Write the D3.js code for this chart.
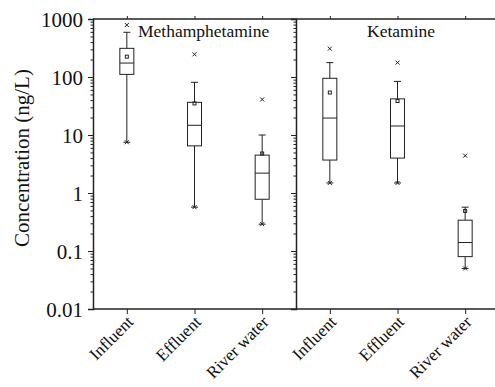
<!DOCTYPE html>
<html>
<head>
<meta charset="utf-8">
<script src="https://cdn.jsdelivr.net/npm/d3@7"></script>
<style>
  body { margin: 0; background: #fff; }
</style>
</head>
<body>
<svg id="chart" width="495" height="387"></svg>
<script>
// data
const panels = ['Methamphetamine', 'Ketamine']
const categories = ['Influent', 'Effluent', 'River water']
const yTicks = [0.01, 0.1, 1, 10, 100, 1000]

// one array per statistic, one row per panel, one value per category
const q1 = [[111, 6.5, 0.78], [3.7, 4.0, 0.08]]
const median = [[174, 14.7, 2.2], [19.6, 14.3, 0.14]]
const q3 = [[312, 36.6, 4.5], [95, 42, 0.34]]
const whiskerLow = [[7.5, 0.57, 0.29], [1.49, 1.49, 0.05]]
const whiskerHigh = [[590, 81, 10], [177, 84, 0.57]]
const means = [[224, 35, 4.8], [54, 38.5, 0.49]]
const outliers = [[788, 246, 41], [308, 177, 4.4]]

const font = '"Liberation Serif", "DejaVu Serif", serif'
const svg = d3.select('#chart')
const margin = { left: 93, top: 19, bottom: 309 }
const panelWidth = 203
const titleX = [45, 71]

const y = d3.scaleLog().domain([0.01, 1000]).range([margin.bottom, margin.top])

const xScales = panels.map((p, i) => d3.scalePoint()
    .domain(categories)
    .range([margin.left + i * panelWidth, margin.left + (i + 1) * panelWidth])
    .padding(0.5))

const minorTicks = []
for (let e = -2; e < 3; e++) {
    for (let m = 2; m < 10; m++) minorTicks.push(m * Math.pow(10, e))
}

// top line across both panels
svg.append('line')
    .attr('x1', margin.left).attr('x2', margin.left + 2 * panelWidth)
    .attr('y1', margin.top).attr('y2', margin.top)
    .attr('stroke', '#222').attr('stroke-width', 1.3)

panels.forEach((name, i) => {
    const x = xScales[i]
    const x0 = margin.left + i * panelWidth

    // y axis (left edge of each panel)
    const yAxis = svg.append('g')
        .attr('transform', `translate(${x0},0)`)
        .attr('font-family', font)
        .call(d3.axisLeft(y).tickValues(yTicks).tickSize(5).tickFormat(i === 0 ? d => d3.format('~g')(d) : ''))
    yAxis.attr('font-family', font)
    yAxis.select('.domain').attr('stroke', '#222').attr('stroke-width', 1.5)
    yAxis.selectAll('.tick line').attr('stroke', '#222')
    yAxis.selectAll('text')
        .attr('font-family', font)
        .attr('font-size', 21)
        .attr('fill', '#111')
        .attr('x', -10)
        .attr('dy', '0.35em')

    svg.append('g')
        .attr('transform', `translate(${x0},0)`)
        .call(d3.axisLeft(y).tickValues(minorTicks).tickSize(2.5).tickFormat(''))
        .call(g => g.select('.domain').remove())
        .selectAll('.tick line').attr('stroke', '#222')

    // bottom axis
    const xAxis = svg.append('g')
        .attr('transform', `translate(0,${margin.bottom})`)
        .call(d3.axisBottom(x).tickSize(5).tickSizeOuter(0))
    xAxis.attr('font-family', font)
    xAxis.select('.domain')
        .attr('d', `M${x0},0H${x0 + panelWidth}`)
        .attr('stroke', '#222').attr('stroke-width', 1.5)
    xAxis.selectAll('.tick line').attr('stroke', '#222')
    xAxis.selectAll('text')
        .attr('font-family', font)
        .attr('font-size', 17)
        .attr('fill', '#111')
        .attr('text-anchor', 'end')
        .attr('x', 0).attr('y', 0)
        .attr('dy', 0)
        .attr('transform', 'translate(7,14) rotate(-45)')

    // top ticks
    svg.append('g')
        .attr('transform', `translate(0,${margin.top})`)
        .call(d3.axisTop(x).tickSize(3).tickFormat('').tickSizeOuter(0))
        .call(g => g.select('.domain').remove())
        .selectAll('.tick line').attr('stroke', '#222')

    // panel title
    svg.append('text')
        .attr('x', x0 + titleX[i])
        .attr('y', margin.top + 18)
        .attr('font-family', font)
        .attr('font-size', 17.5)
        .attr('fill', '#111')
        .text(name)

    // boxes
    const boxW = 14
    const capW = 7
    const g = svg.append('g').attr('stroke', '#222').attr('fill', 'none')
    categories.forEach((c, j) => {
        const cx = x(c)
        g.append('line')
            .attr('x1', cx).attr('x2', cx)
            .attr('y1', y(whiskerHigh[i][j])).attr('y2', y(q3[i][j]))
        g.append('line')
            .attr('x1', cx).attr('x2', cx)
            .attr('y1', y(q1[i][j])).attr('y2', y(whiskerLow[i][j]))
        ;[whiskerHigh[i][j], whiskerLow[i][j]].forEach(v => {
            g.append('line')
                .attr('x1', cx - capW / 2).attr('x2', cx + capW / 2)
                .attr('y1', y(v)).attr('y2', y(v))
        })
        g.append('rect')
            .attr('x', cx - boxW / 2).attr('width', boxW)
            .attr('y', y(q3[i][j])).attr('height', y(q1[i][j]) - y(q3[i][j]))
            .attr('fill', '#fff')
        g.append('line')
            .attr('x1', cx - boxW / 2).attr('x2', cx + boxW / 2)
            .attr('y1', y(median[i][j])).attr('y2', y(median[i][j]))
        // mean marker
        g.append('rect')
            .attr('x', cx - 1.5).attr('y', y(means[i][j]) - 1.5)
            .attr('width', 3).attr('height', 3)
            .attr('stroke-width', 1)
        // min marker and outlier
        ;[whiskerLow[i][j], outliers[i][j]].forEach(v => {
            const py = y(v)
            g.append('path')
                .attr('d', `M${cx - 2},${py - 2}L${cx + 2},${py + 2}M${cx - 2},${py + 2}L${cx + 2},${py - 2}`)
                .attr('stroke-width', 1)
        })
    })
})

// y label
svg.append('text')
    .attr('transform', 'translate(29,158) rotate(-90)')
    .attr('text-anchor', 'middle')
    .attr('font-family', font)
    .attr('font-size', 21)
    .attr('fill', '#111')
    .text('Concentration (ng/L)')
</script>
</body>
</html>
